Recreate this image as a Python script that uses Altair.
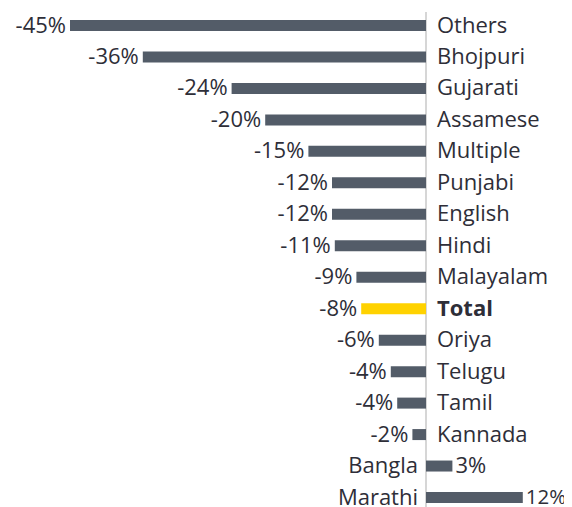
import altair as alt
import pandas as pd

categories = ["Others", "Bhojpuri", "Gujarati", "Assamese", "Multiple", "Punjabi",
              "English", "Hindi", "Malayalam", "Total", "Oriya", "Telugu", "Tamil",
              "Kannada", "Bangla", "Marathi"]
values = [-44.5, -35.4, -24.3, -20.1, -14.7, -11.75, -11.75, -11.4, -8.7, -8.1,
          -5.9, -4.4, -3.6, -1.7, 3.3, 12.1]
labels = ["-45%", "-36%", "-24%", "-20%", "-15%", "-12%", "-12%", "-11%", "-9%",
          "-8%", "-6%", "-4%", "-4%", "-2%", "3%", "12%"]

df = pd.DataFrame({"cat": categories, "value": values, "label": labels})
df["kind"] = ["Total" if c == "Total" else "Other" for c in categories]
df["zero"] = 0

W, H = 556, 499
FONT = "Open Sans"
TXT = "#2e2e38"

xs = alt.Scale(domain=[-52.25, 17.25], nice=False, zero=False)
ys = alt.Scale(type="point", domain=categories, range=[17.5, 489.5], padding=0)

base = alt.Chart(df)
X = alt.X("value:Q", scale=xs, axis=None)
Y = alt.Y("cat:N", scale=ys, axis=None, sort=None)

zero_line = alt.Chart(pd.DataFrame({"zero": [0]})).mark_rule(
    color="#d6d6d6", strokeWidth=2
).encode(
    x=alt.X("zero:Q", scale=xs, axis=None),
    y=alt.value(4),
    y2=alt.value(H),
)

bars = base.mark_bar(size=11).encode(
    x=X,
    x2=alt.X2("zero:Q"),
    y=Y,
    color=alt.Color("kind:N", scale=alt.Scale(domain=["Total", "Other"],
                                               range=["#ffd200", "#535c68"]),
                    legend=None),
)

neg = "datum.value < 0"
pos = "datum.value >= 0"

cat_neg = base.transform_filter(neg + " && datum.cat != 'Total'").mark_text(
    align="left", baseline="middle", dx=11, font=FONT, fontSize=22, color=TXT
).encode(x=alt.X("zero:Q", scale=xs, axis=None), y=Y, text="cat:N")

cat_total = base.transform_filter("datum.cat == 'Total'").mark_text(
    align="left", baseline="middle", dx=11, font=FONT, fontSize=22, color=TXT,
    fontWeight="bold"
).encode(x=alt.X("zero:Q", scale=xs, axis=None), y=Y, text="cat:N")

cat_pos = base.transform_filter(pos).mark_text(
    align="right", baseline="middle", dx=-8, font=FONT, fontSize=22, color=TXT
).encode(x=alt.X("zero:Q", scale=xs, axis=None), y=Y, text="cat:N")

val_neg = base.transform_filter(neg).mark_text(
    align="right", baseline="middle", dx=-4, font=FONT, fontSize=22, color=TXT
).encode(x=X, y=Y, text="label:N")

val_pos = base.transform_filter(pos).mark_text(
    align="left", baseline="middle", dx=3, font=FONT, color=TXT
).encode(
    x=X, y=Y, text="label:N",
    size=alt.condition("datum.value > 10", alt.value(20.5), alt.value(22)),
)

chart = alt.layer(zero_line, bars, cat_neg, cat_total, cat_pos, val_neg, val_pos).properties(
    width=W, height=H, autosize=alt.AutoSizeParams(type="none"), padding=0
).configure_view(stroke=None)

chart.save("out.html", embed_options={"renderer": "svg", "actions": False})
